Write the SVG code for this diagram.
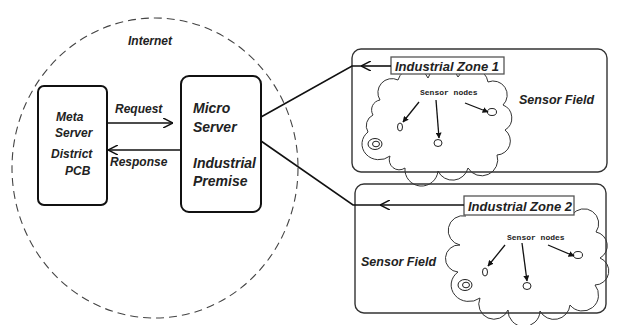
<svg xmlns="http://www.w3.org/2000/svg" width="621" height="325" viewBox="0 0 621 325">
<style>
text{font-family:"Liberation Sans",Arial,sans-serif;font-style:italic;font-weight:bold;fill:#222}
.box{fill:#fff;stroke:#111;stroke-width:2}
.zone{fill:none;stroke:#333;stroke-width:1.4}
.lbl{fill:#fff;stroke:#555;stroke-width:1.3}
.cloud{fill:none;stroke:#333;stroke-width:1}
.ln{fill:none;stroke:#111;stroke-width:1.6}
.sn{fill:none;stroke:#111;stroke-width:1.3}
.mono{font-family:"Liberation Mono","Courier New",monospace;font-style:normal;font-size:8px;font-weight:bold}
.node{fill:#fff;stroke:#222;stroke-width:1}
</style>
<defs>
<marker id="chev" viewBox="0 0 10 10" refX="10" refY="5" markerWidth="10" markerHeight="10" markerUnits="userSpaceOnUse" orient="auto"><path d="M0,0 L10,5 L0,10" fill="none" stroke="#111" stroke-width="1.5"/></marker>
<marker id="tri" viewBox="0 0 10 10" refX="9" refY="5" markerWidth="6" markerHeight="6" markerUnits="userSpaceOnUse" orient="auto"><path d="M0,0 L10,5 L0,10 Z" fill="#111"/></marker>
</defs>
<rect width="621" height="325" fill="#fff"/>
<g id="internet">
<ellipse cx="155" cy="168" rx="143" ry="150" fill="none" stroke="#444" stroke-width="1.1" stroke-dasharray="8,5"/>
<text x="128" y="45" font-size="12">Internet</text>
</g>
<g id="meta-server">
<rect class="box" x="38" y="86" width="69" height="119" rx="6"/>
<text x="56" y="121" font-size="12">Meta</text>
<text x="55" y="137" font-size="12">Server</text>
<text x="51" y="158" font-size="12">District</text>
<text x="65" y="175" font-size="12">PCB</text>
</g>
<g id="micro-server">
<rect class="box" x="181" y="76" width="80" height="136" rx="8"/>
<text x="193" y="113" font-size="14">Micro</text>
<text x="193" y="132" font-size="14">Server</text>
<text x="193" y="168" font-size="14">Industrial</text>
<text x="193" y="186" font-size="14">Premise</text>
</g>
<g id="zone1">
<rect class="zone" x="352" y="49" width="255" height="123" rx="9"/>
<path class="cloud" d="M380,100 A14,14 0 0 1 398,80 A16,16 0 0 1 428,78 A16,16 0 0 1 458,77 A16,16 0 0 1 488,82 A14,14 0 0 1 503,105 A14,14 0 0 1 505,130 A14,14 0 0 1 497,155 A16,16 0 0 1 468,168 A16,16 0 0 1 438,171 A16,16 0 0 1 405,168 A10,10 0 0 1 390,156 A13,12 0 0 1 368,132 A12,12 0 0 1 373,115 A10,10 0 0 1 380,100 Z"/>
<ellipse class="node" cx="375" cy="144" rx="7" ry="5.5"/>
<ellipse class="node" cx="376" cy="144" rx="3.5" ry="2.8"/>
<rect class="lbl" x="391" y="57" width="113" height="17"/>
<text x="395" y="71" font-size="13">Industrial Zone 1</text>
<text x="519" y="104" font-size="12.5">Sensor Field</text>
<text class="mono" x="420" y="95">Sensor nodes</text>
<ellipse class="node" cx="400" cy="127" rx="2.5" ry="4"/>
<ellipse class="node" cx="438" cy="143" rx="4" ry="3.5"/>
<ellipse class="node" cx="492" cy="112" rx="4.5" ry="3.5"/>
<path class="sn" d="M419,102 L403,122" marker-end="url(#tri)"/>
<path class="sn" d="M436,100 L439,138" marker-end="url(#tri)"/>
<path class="sn" d="M465,103 L488,112" marker-end="url(#tri)"/>
</g>
<g id="zone2">
<rect class="zone" x="355" y="184" width="251" height="129" rx="9"/>
<path class="cloud" d="M572,215 A14,14 0 0 1 596,232 A14,14 0 0 1 600,258 A14,14 0 0 1 595,285 A16,16 0 0 1 570,305 A16,16 0 0 1 540,311 A16,16 0 0 1 508,310 A12,12 0 0 1 480,298 A13,12 0 0 1 458,272 A12,12 0 0 1 460,245 A13,13 0 0 1 466,216"/>
<ellipse class="node" cx="465" cy="285" rx="7" ry="5.5"/>
<ellipse class="node" cx="466" cy="285" rx="3.5" ry="2.8"/>
<rect class="lbl" x="464" y="196" width="110" height="19"/>
<text x="468" y="211" font-size="13">Industrial Zone 2</text>
<text x="361" y="266" font-size="12.5">Sensor Field</text>
<text class="mono" x="507" y="240">Sensor nodes</text>
<ellipse class="node" cx="485" cy="272" rx="2.5" ry="4"/>
<ellipse class="node" cx="527" cy="286" rx="4" ry="3.5"/>
<ellipse class="node" cx="578" cy="255" rx="4.5" ry="3.5"/>
<path class="sn" d="M505,245 L488,266" marker-end="url(#tri)"/>
<path class="sn" d="M522,243 L527,281" marker-end="url(#tri)"/>
<path class="sn" d="M548,245 L574,256" marker-end="url(#tri)"/>
</g>
<g id="connectors">
<path class="ln" d="M107,123 L173,123" marker-end="url(#chev)"/>
<text x="115" y="113" font-size="12">Request</text>
<path class="ln" d="M181,150 L108,150" marker-end="url(#chev)"/>
<text x="110" y="166" font-size="12">Response</text>
<path class="ln" d="M261,117 L352,66 L362,66"/>
<path class="ln" d="M391,66 L361,66" marker-end="url(#chev)"/>
<path class="ln" d="M261,141 L353,205 L381,205"/>
<path class="ln" d="M464,205 L380,205" marker-end="url(#chev)"/>
</g>
</svg>
